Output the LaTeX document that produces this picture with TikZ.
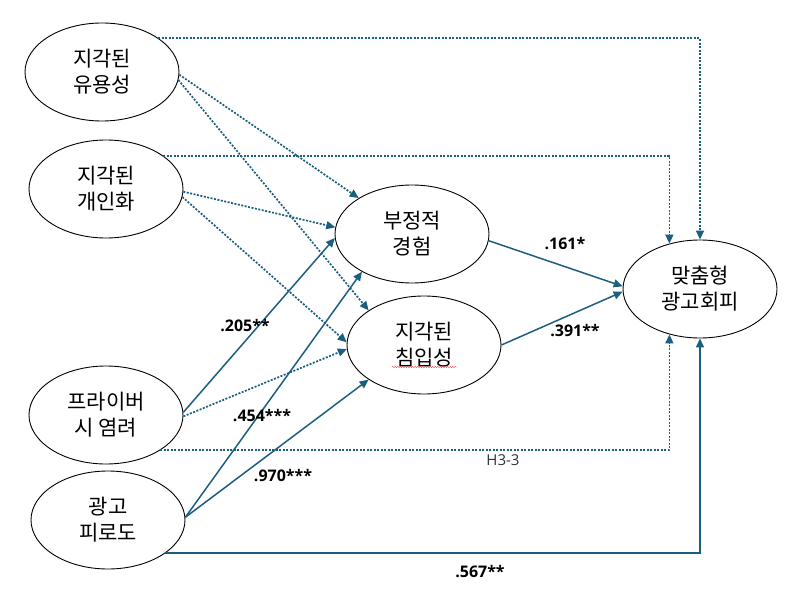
\documentclass[tikz,border=0pt]{standalone}
\usepackage{fontspec}
\setmainfont{Noto Sans CJK KR}
\newfontfamily\numfont{Open Sans}
\usetikzlibrary{shapes.geometric,arrows.meta,decorations.pathmorphing}
\definecolor{pathblue}{RGB}{28,94,128}

\begin{document}
\begin{tikzpicture}
            [
                x=1pt, y=-1pt,
                every node/.style={inner sep=0pt},
                var/.style={draw, ellipse, line width=0.9pt,
                    minimum width=154pt, minimum height=98pt,
                    align=center, font=\fontsize{21}{26}\selectfont},
                sig/.style={pathblue, line width=1.5pt,
                    -{Triangle[length=9pt,width=8pt]}},
                nonsig/.style={pathblue, line width=1.7pt,
                    dash pattern=on 2pt off 1.5pt,
                    -{Triangle[length=9pt,width=8pt]}},
                coef/.style={font=\numfont\bfseries\fontsize{16}{18}\selectfont}
            ]
            \useasboundingbox (0,0) rectangle (800,596);

            % constructs
            \node[var] (use) at (102,72) {지각된\\유용성};
            \node[var] (pers) at (106,189) {지각된\\개인화};
            \node[var] (priv) at (106,415) {프라이버\\시 염려};
            \node[var] (fatig) at (108,520) {광고\\피로도};
            \node[var] (neg) at (412,234) {부정적\\경험};
            \node[var] (intr) at (424,345) {지각된\\침입성};
            \node[var] (avoid) at (700,289) {맞춤형\\광고회피};

            % spell check mark
            \draw[red!80, line width=0.4pt, decorate,
                decoration={snake, amplitude=0.6pt, segment length=2.5pt}]
                (392,367) -- (457,367);

            % direct paths
            \draw[nonsig] (use.31) -| (avoid.north);
            \draw[nonsig] (pers.30) -| (avoid.124);
            \draw[nonsig] (priv.-33) -| (avoid.236);
            \draw[sig] (fatig.-30) -| (avoid.south);

            % paths to mediators
            \draw[nonsig] (use.-2) -- (neg.146);
            \draw[nonsig] (use.-6) -- (intr.148);
            \draw[nonsig] (pers.-2) -- (neg.175);
            \draw[nonsig] (pers.-6) -- (intr.178);
            \draw[sig] (priv.2) -- (neg.183);
            \draw[nonsig] (priv.-1) -- (intr.183);
            \draw[sig] (fatig.2) -- (neg.217);
            \draw[sig] (fatig.2) -- (intr.212);

            % mediators to outcome
            \draw[sig] (neg.-5) -- (avoid.178);
            \draw[sig] (intr.east) -- (avoid.182);

            % coefficients
            \node[coef] (c1) at (565,244) {.161*};
            \node[coef] (c2) at (575,331) {.391**};
            \node[coef] (c3) at (245,326) {.205**};
            \node[coef] (c4) at (262,416) {.454***};
            \node[coef] (c5) at (283,476) {.970***};
            \node[coef] (c6) at (480,572) {.567**};
            \node[font=\numfont\fontsize{15}{18}\selectfont, text=black!80] (h33) at (503,460) {H3-3};
\end{tikzpicture}
\end{document}
